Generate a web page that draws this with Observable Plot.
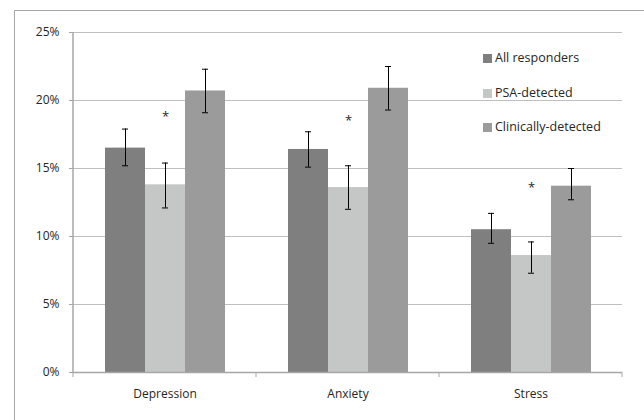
<!DOCTYPE html>
<html>
<head>
<meta charset="utf-8">
<script src="https://cdn.jsdelivr.net/npm/d3@7"></script>
<script src="https://cdn.jsdelivr.net/npm/@observablehq/plot@0.6"></script>
<style>
  body { margin: 0; background: #fff; }
  #wrap { position: relative; width: 644px; height: 420px; overflow: hidden; font-family: "Open Sans", sans-serif; }
  #legend { position: absolute; left: 483px; top: 49px; font-size: 12.5px; color: #262626; }
  #legend .row { height: 34.5px; display: flex; align-items: flex-start; }
  #legend .sw { width: 9px; height: 9px; margin-right: 3px; margin-top: 5px; }
</style>
</head>
<body>
<div id="wrap">
  <div id="chart"></div>
  <div id="legend"></div>
</div>
<script>
const categories = ["Depression", "Anxiety", "Stress"];
const series = ["All responders", "PSA-detected", "Clinically-detected"];
const colors = ["#7f7f7f", "#c5c7c6", "#9a9b9a"];

const allResponders = [16.5, 16.4, 10.5];
const allLow = [15.2, 15.1, 9.5];
const allHigh = [17.9, 17.7, 11.7];

const psaDetected = [13.8, 13.6, 8.6];
const psaLow = [12.1, 12.0, 7.3];
const psaHigh = [15.4, 15.2, 9.6];

const clinDetected = [20.7, 20.9, 13.7];
const clinLow = [19.1, 19.3, 12.7];
const clinHigh = [22.3, 22.5, 15.0];

const starLevel = [18.8, 18.5, 13.6];
const yTicks = [0, 5, 10, 15, 20, 25];

const seriesValues = [allResponders, psaDetected, clinDetected];
const seriesLow = [allLow, psaLow, clinLow];
const seriesHigh = [allHigh, psaHigh, clinHigh];

const rows = [];
series.forEach((s, si) => categories.forEach((c, ci) => {
  rows.push({category: c, series: s, value: seriesValues[si][ci], low: seriesLow[si][ci], high: seriesHigh[si][ci]});
}));
const stars = categories.map((c, ci) => ({category: c, series: series[1], y: starLevel[ci]}));

const plot = Plot.plot({
  width: 644,
  height: 420,
  marginLeft: 72,
  marginRight: 21,
  marginTop: 32,
  marginBottom: 48,
  style: {fontFamily: "'Open Sans', sans-serif", fontSize: "12px", color: "#262626", background: "transparent"},
  fx: {domain: categories, padding: 0, label: null},
  x: {domain: series, paddingInner: 0, paddingOuter: 0.74, axis: null},
  y: {domain: [0, 25], label: null},
  color: {domain: series, range: colors},
  marks: [
    Plot.gridY(yTicks, {stroke: "#bfbfbf", strokeOpacity: 1}),
    Plot.axisY(yTicks, {tickFormat: d => d + "%", tickSize: 4, stroke: "#a6a6a6", tickPadding: 10, label: null, fill: "#262626"}),
    Plot.axisFx({anchor: "bottom", tickSize: 0, tickPadding: 17, label: null, fill: "#262626"}),
    Plot.barY(rows, {fx: "category", x: "series", y: "value", fill: "series"}),
    Plot.ruleY([0], {stroke: "#a6a6a6", strokeWidth: 1.5}),
    Plot.ruleX(rows, {fx: "category", x: "series", y1: "low", y2: "high", stroke: "#000", strokeWidth: 1}),
    Plot.tickY(rows, {fx: "category", x: "series", y: "low", stroke: "#000", insetLeft: 17, insetRight: 17}),
    Plot.tickY(rows, {fx: "category", x: "series", y: "high", stroke: "#000", insetLeft: 17, insetRight: 17}),
    Plot.text(stars, {fx: "category", x: "series", y: "y", text: () => "*", fontSize: 13, fill: "#262626"})
  ]
});
document.getElementById("chart").appendChild(plot);

// axis line, category boundary ticks and chart border, positioned from the plot's own scales
const svg = d3.select(plot);
const yS = plot.scale("y");
const fxS = plot.scale("fx");
const y0 = yS.apply(0), yTop = yS.apply(25);
const left = fxS.apply(categories[0]);
svg.append("line").attr("x1", left).attr("x2", left).attr("y1", yTop).attr("y2", y0)
  .attr("stroke", "#a6a6a6").attr("stroke-width", 1.5);
const bounds = categories.map(c => fxS.apply(c)).concat([fxS.apply(categories[2]) + fxS.bandwidth]);
bounds.forEach(b => {
  svg.append("line").attr("x1", b).attr("x2", b).attr("y1", y0).attr("y2", y0 + 5)
    .attr("stroke", "#a6a6a6").attr("stroke-width", 1);
});
svg.append("path").attr("d", "M14.5,430V10.5H660").attr("fill", "none")
  .attr("stroke", "#a6a6a6").attr("stroke-width", 1);

const legend = document.getElementById("legend");
series.forEach((s, i) => {
  const row = document.createElement("div");
  row.className = "row";
  row.innerHTML = `<div class="sw" style="background:${colors[i]}"></div><span>${s}</span>`;
  legend.appendChild(row);
});
</script>
</body>
</html>
